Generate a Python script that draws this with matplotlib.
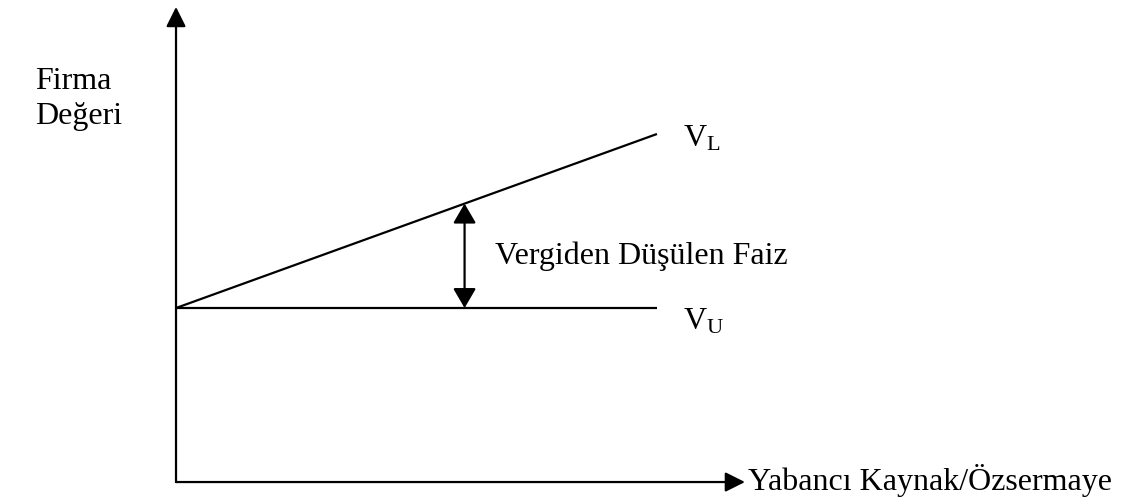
import matplotlib
matplotlib.use('Agg')
import matplotlib.pyplot as plt

plt.rcParams['font.family'] = ['Liberation Serif', 'DejaVu Serif']
plt.rcParams['mathtext.fontset'] = 'custom'
plt.rcParams['mathtext.rm'] = 'Liberation Serif'
plt.rcParams['mathtext.it'] = 'Liberation Serif'

# debt / equity ratio (schematic units)
debt_ratio = [0.0, 1.0]
# firm value without debt (unlevered) and with debt (levered)
v_unlevered = [1.0, 1.0]
v_levered = [1.0, 2.0]

# where the tax shield arrow is drawn
shield_x = 0.6

x_label = 'Yabancı Kaynak/Özsermaye'
y_label = 'Firma\nDeğeri'
shield_label = 'Vergiden Düşülen Faiz'
line_labels = ['$\\mathrm{V_L}$', '$\\mathrm{V_U}$']

FS = 23

fig = plt.figure(figsize=(11.22, 4.97), dpi=100)
ax = fig.add_axes([0, 0, 1, 1])
ax.set_xlim(-0.366, 1.967)
ax.set_ylim(-0.086, 2.770)
ax.axis('off')

# axes with arrow heads
arrow = dict(arrowstyle='-|>,head_length=0.6,head_width=0.3', lw=1.6,
             color='k', mutation_scale=20, shrinkA=0, shrinkB=0)
ax.annotate('', xy=(0, 2.73), xytext=(0, 0), arrowprops=arrow)
ax.annotate('', xy=(1.183, 0), xytext=(0, 0), arrowprops=arrow)

ax.plot(debt_ratio, v_unlevered, color='k', lw=1.6, solid_capstyle='butt')
ax.plot(debt_ratio, v_levered, color='k', lw=1.6, solid_capstyle='butt')

# tax shield gap between the two lines
top = v_levered[0] + (v_levered[1] - v_levered[0]) * shield_x
ax.annotate('', xy=(shield_x, top), xytext=(shield_x, v_unlevered[0]),
            arrowprops=dict(arrowstyle='<|-|>,head_length=0.6,head_width=0.35',
                            lw=1.6, color='k', mutation_scale=20,
                            shrinkA=0, shrinkB=0))

ax.text(0.663, 1.30, shield_label, fontsize=FS, va='center', ha='left')
ax.text(1.054, v_levered[1] - 0.03, line_labels[0], fontsize=FS, va='center', ha='left')
ax.text(1.054, v_unlevered[1] - 0.08, line_labels[1], fontsize=FS, va='center', ha='left')
ax.text(1.189, -0.043, x_label, fontsize=FS, va='baseline', ha='left')
ax.text(-0.293, 2.20, y_label, fontsize=FS, va='center', ha='left',
        linespacing=1.25)

plt.savefig('out.png', dpi=100)
